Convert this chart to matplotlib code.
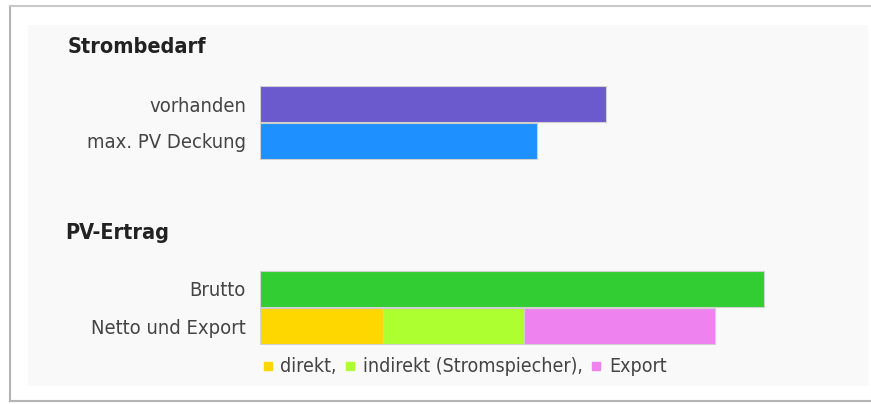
import matplotlib
matplotlib.use('Agg')
import matplotlib.pyplot as plt
from matplotlib.patches import Rectangle
from matplotlib.lines import Line2D

# Strombedarf (kWh)
demand_labels = ["vorhanden", "max. PV Deckung"]
demand_values = [3460, 2770]
demand_colors = ["slateblue", "dodgerblue"]

# PV-Ertrag (kWh)
yield_labels = ["Brutto", "Netto und Export"]
brutto_value = 5040
netto_parts = ["direkt,", "indirekt (Stromspiecher),", "Export"]
netto_values = [1230, 1410, 1910]
netto_colors = ["gold", "greenyellow", "violet"]

W, H = 871, 404
fig = plt.figure(figsize=(W / 100, H / 100), dpi=100, facecolor='white')


def px(x0, y0, x1, y1):
    # pixel box (top-left origin) -> figure fraction rect
    return [x0 / W, 1 - y1 / H, (x1 - x0) / W, (y1 - y0) / H]


# frame and light panel
fig.add_artist(Rectangle((28 / W, 1 - 386 / H), 840 / W, 361 / H,
                         transform=fig.transFigure, fc='#f9f9f9', ec='none', zorder=0))
fig.add_artist(Line2D([10 / W, 10 / W], [1 - 401 / H, 1 - 6 / H],
                      transform=fig.transFigure, color='#b4b4b4', lw=1.5))
fig.add_artist(Line2D([10 / W, 1], [1 - 6 / H, 1 - 6 / H],
                      transform=fig.transFigure, color='#c8c8c8', lw=1.5))
fig.add_artist(Line2D([10 / W, 1], [1 - 401 / H, 1 - 401 / H],
                      transform=fig.transFigure, color='#b4b4b4', lw=1.5))

label_kw = dict(fontsize=14.5, color='#444444', fontstretch='condensed')
xmax = 6000


def style(ax, labels):
    ax.set_xlim(0, xmax)
    ax.set_ylim(1.5, -0.5)
    ax.set_yticks(range(len(labels)))
    ax.set_yticklabels(labels, **label_kw)
    ax.set_xticks([])
    ax.tick_params(axis='y', length=0, pad=10)
    for s in ax.spines.values():
        s.set_visible(False)
    ax.patch.set_visible(False)


ax1 = fig.add_axes(px(260, 85.5, 860, 159.5))
ax1.barh(range(len(demand_values)), demand_values, height=0.96,
         color=demand_colors, edgecolor='#d0d0d0', linewidth=0.8)
style(ax1, demand_labels)

ax2 = fig.add_axes(px(260, 270, 860, 345))
ax2.barh(0, brutto_value, height=0.96, color='limegreen',
         edgecolor='#d0d0d0', linewidth=0.8)
left = 0
for v, c in zip(netto_values, netto_colors):
    ax2.barh(1, v, left=left, height=0.96, color=c,
             edgecolor='#d0d0d0', linewidth=0.8)
    left += v
style(ax2, yield_labels)

fig.text(68 / W, 1 - 47 / H, "Strombedarf", fontsize=15.5, fontweight='bold',
         color='#222222', va='center', fontstretch='condensed')
fig.text(65 / W, 1 - 233 / H, "PV-Ertrag", fontsize=15.5, fontweight='bold',
         color='#222222', va='center', fontstretch='condensed')

handles = [Line2D([], [], marker='s', ls='none', color=c, markersize=6)
           for c in netto_colors]
leg = fig.legend(handles, netto_parts, loc='center left',
                 bbox_to_anchor=(253 / W, 1 - 367 / H), ncol=3, frameon=False,
                 handlelength=0.5, handletextpad=0.4, columnspacing=0.45,
                 borderpad=0, prop=dict(size=14, stretch='condensed'))
for t in leg.get_texts():
    t.set_color('#444444')

fig.savefig('out.png', dpi=100, facecolor='white')
